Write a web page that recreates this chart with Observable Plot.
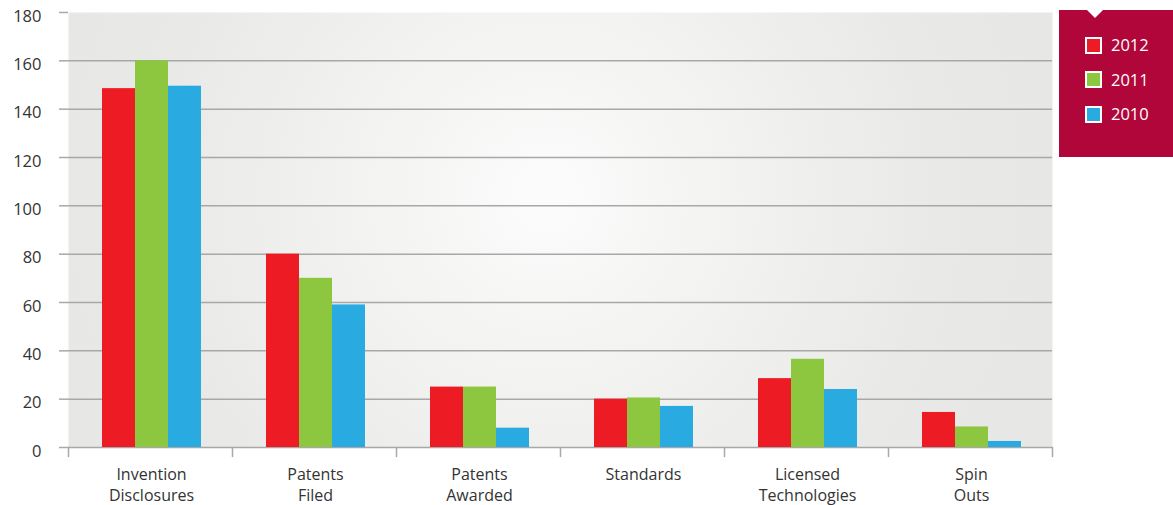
<!DOCTYPE html>
<html><head><meta charset="utf-8">
<script src="https://cdn.jsdelivr.net/npm/d3@7"></script>
<script src="https://cdn.jsdelivr.net/npm/@observablehq/plot@0.6"></script>
<style>
body{margin:0;background:#fff;font-family:"Open Sans",sans-serif;}
#wrap{position:relative;width:1173px;height:505px;}
#legend{position:absolute;left:1059px;top:10px;width:114px;height:147px;background:#b1063a;}
#legend .notch{position:absolute;left:28px;top:0;width:0;height:0;border-left:8px solid transparent;border-right:8px solid transparent;border-top:8px solid #fff;}
.item{position:absolute;left:26px;height:20px;display:flex;align-items:center;color:#fff;font-size:16.5px;line-height:20px;}
.sw{width:13px;height:13px;border:2px solid #fff;margin-right:9px;}
</style>
</head><body>
<div id="wrap"><div id="legend"><div class="notch"></div></div></div>
<script>
const categories = ["Invention\nDisclosures", "Patents\nFiled", "Patents\nAwarded", "Standards", "Licensed\nTechnologies", "Spin\nOuts"];
const years = ["2012", "2011", "2010"];
const values2012 = [148.5, 80, 25, 20, 28.5, 14.5];
const values2011 = [160, 70, 25, 20.5, 36.5, 8.5];
const values2010 = [149.5, 59, 8, 17, 24, 2.5];
const colors = ["#ed1c24", "#8dc63f", "#29abe2"];
const yTicks = [0, 20, 40, 60, 80, 100, 120, 140, 160, 180];
const gridTicks = [0, 20, 40, 60, 80, 100, 120, 140, 160];

const series = [values2012, values2011, values2010];
const rows = [];
categories.forEach((c, i) => years.forEach((y, j) => rows.push({category: c, year: y, value: series[j][i]})));

const gridColor = "#a8a8a8";
const tickShape = {draw(context, l) { context.moveTo(0, 0); context.lineTo(0, -l); }};

const plot = Plot.plot({
  width: 1173, height: 505,
  marginLeft: 67, marginRight: 120, marginTop: 12, marginBottom: 58,
  style: {fontFamily: "'Open Sans', sans-serif", fontSize: "16px", color: "#333", background: "transparent"},
  fx: {domain: categories, padding: 0},
  x: {domain: years, paddingInner: 0, paddingOuter: 0.98, axis: null},
  y: {domain: [0, 180]},
  color: {domain: years, range: colors},
  marks: [
    Plot.frame({facet: "super", fill: "url(#bg)", stroke: "none"}),
    Plot.ruleY(gridTicks, {stroke: gridColor, strokeWidth: 1.5}),
    Plot.barY(rows, {fx: "category", x: "year", y: "value", fill: "year", dx: 1}),
    Plot.vector(categories, {fx: d => d, frameAnchor: "bottom-left", length: 9, rotate: 180, anchor: "start", stroke: gridColor, strokeWidth: 1.5, shape: tickShape}),
    Plot.vector(categories.slice(-1), {fx: d => d, frameAnchor: "bottom-right", length: 9, rotate: 180, anchor: "start", stroke: gridColor, strokeWidth: 1.5, shape: tickShape}),
    Plot.axisY({ticks: yTicks, tickSize: 9, text: null, line: true, stroke: gridColor, strokeWidth: 1.5, strokeOpacity: 1, label: null}),
    Plot.axisY({ticks: yTicks, tickSize: 0, tickPadding: 27, dy: 4, fontSize: 16.5, label: null}),
    Plot.axisFx({anchor: "bottom", label: null, tickSize: 0, tickPadding: 17, dx: 1, fontSize: 16, lineHeight: 1.35})
  ]
});

const defs = d3.select(plot).insert("defs", ":first-child");
const grad = defs.append("radialGradient").attr("id", "bg").attr("gradientUnits", "userSpaceOnUse")
  .attr("cx", 545).attr("cy", 195).attr("r", 520);
grad.append("stop").attr("offset", 0).attr("stop-color", "#fcfcfc");
grad.append("stop").attr("offset", 0.3).attr("stop-color", "#f4f4f3");
grad.append("stop").attr("offset", 0.75).attr("stop-color", "#e9e9e8");
grad.append("stop").attr("offset", 1).attr("stop-color", "#e7e7e6");

document.getElementById("wrap").prepend(plot);

const legend = document.getElementById("legend");
years.forEach((y, j) => {
  const it = document.createElement("div");
  it.className = "item";
  it.style.top = (25 + j * 34.5) + "px";
  it.innerHTML = `<span class="sw" style="background:${colors[j]}"></span><span>${y}</span>`;
  legend.appendChild(it);
});
</script>
</body></html>
